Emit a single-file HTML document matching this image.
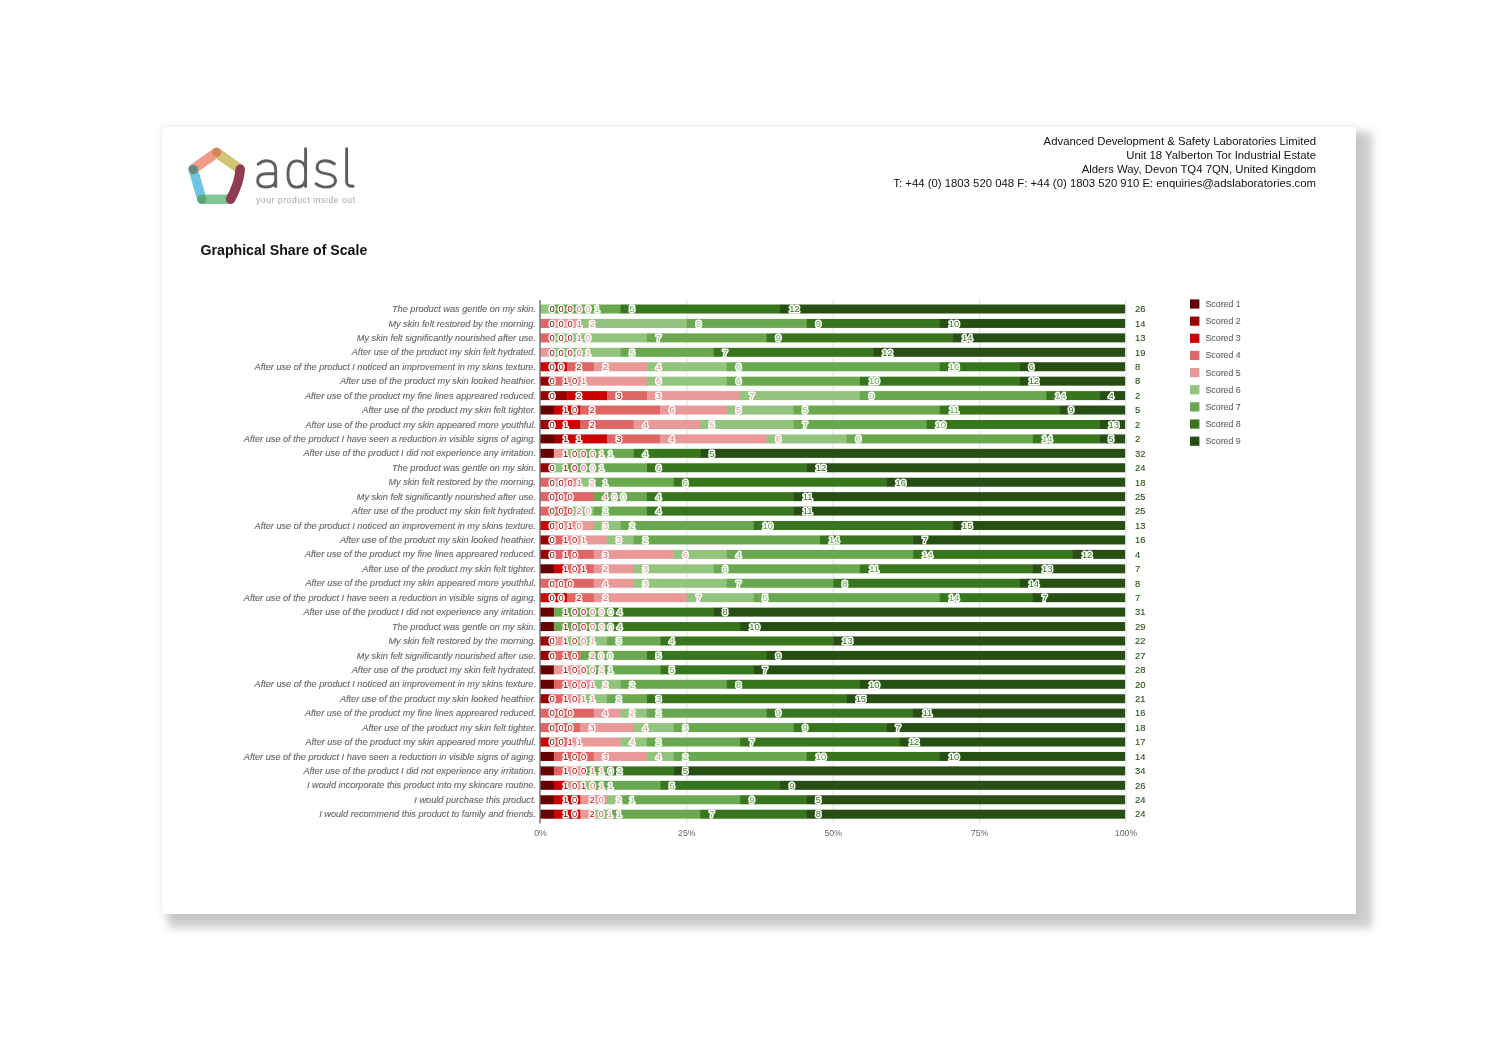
<!DOCTYPE html>
<html><head><meta charset="utf-8"><title>Graphical Share of Scale</title>
<style>
html,body{margin:0;padding:0;background:#fff;}
body{width:1500px;height:1047px;position:relative;overflow:hidden;font-family:"Liberation Sans",sans-serif;}
#page{position:absolute;left:161.5px;top:127.3px;width:1194.5px;height:787.2px;background:#fff;
 box-shadow:0 0 8px 1px rgba(0,0,0,0.07);}
#shadow{position:absolute;left:168px;top:132px;width:1204px;height:796px;background:rgba(0,0,0,0.195);filter:blur(4.5px);}
#addr{position:absolute;right:184px;top:134px;text-align:right;font-size:11.35px;line-height:14px;color:#111;white-space:nowrap;}
#title{position:absolute;left:200.5px;top:241.4px;font-weight:bold;font-size:14.17px;line-height:18px;color:#111;white-space:nowrap;}
#chart{position:absolute;left:0;top:0;filter:blur(0.55px);}
#logo,#tag,#addr,#title{filter:blur(0.45px);}
#chart text{font-family:"Liberation Sans",sans-serif;}
#chart text.d{font-size:9.4px;text-anchor:middle;stroke:#fff;stroke-width:3px;stroke-linejoin:round;paint-order:stroke fill;}
#chart text.e{font-size:9.4px;text-anchor:middle;stroke-width:0.1px;}
#chart text.c{font-size:9.17px;font-style:italic;text-anchor:end;fill:#666;stroke:#666;stroke-width:0.12px;}
#chart text.a{font-size:8.8px;text-anchor:middle;fill:#666;}
#chart text.l{font-size:8.8px;fill:#666;stroke:#666;stroke-width:0.12px;}
#logo{position:absolute;left:180px;top:138px;}
#tag{position:absolute;left:256px;top:194.5px;font-size:8.6px;line-height:11px;letter-spacing:0.55px;color:#a6a6a6;white-space:nowrap;}
</style></head><body>
<div id="shadow"></div>
<div id="page"></div>
<svg id="logo" width="190" height="76" viewBox="0 0 190 76">
 <g fill="none" stroke-linecap="round">
  <path d="M36.6 14.6 L13.2 31.2" stroke="#f09c88" stroke-width="10"/>
  <path d="M36.6 14.6 L60 31.2" stroke="#d2c474" stroke-width="10"/>
  <path d="M13.2 31.2 L21.8 61.3" stroke="#6fc4e4" stroke-width="9.4"/>
  <path d="M21.8 61.3 L50.6 61.3" stroke="#7fc794" stroke-width="9.4"/>
  <circle cx="36.6" cy="14.6" r="4.6" fill="#d3875c" stroke="none"/>
  <circle cx="13.4" cy="31.6" r="4.6" fill="#648c7e" stroke="none"/>
  <circle cx="22" cy="61.1" r="4.6" fill="#5aa878" stroke="none"/>
  <path d="M60.2 31.4 Q59 46 50.6 61.1" stroke="#8f3b52" stroke-width="9.6"/>
 </g>
 <g fill="none" stroke="#5e5f61" stroke-width="2.9" stroke-linecap="round" stroke-linejoin="round" transform="translate(70,2) scale(0.07669)">
  <path d="M108 315 C150 275 200 268 235 272 C300 280 335 320 335 390 L335 606 M335 440 L215 440 C140 440 100 475 100 530 C100 585 145 612 210 612 C270 612 335 590 335 520" stroke-width="38"/>
  <path d="M725 114 L725 606 M725 400 C725 320 680 272 610 272 C530 272 495 330 495 445 C495 560 530 615 610 615 C680 615 725 570 725 490" stroke-width="38"/>
  <path d="M1100 310 C1060 280 1020 270 980 270 C920 270 875 300 875 355 C875 410 915 425 990 438 C1070 450 1115 470 1115 525 C1115 585 1060 615 990 615 C940 615 895 600 860 570" stroke-width="38"/>
  <path d="M1260 114 L1260 540 C1260 588 1285 604 1345 604" stroke-width="38"/>
 </g>
</svg>
<div id="tag">your product inside out</div>
<div id="addr">Advanced Development &amp; Safety Laboratories Limited<br>Unit 18 Yalberton Tor Industrial Estate<br>Alders Way, Devon TQ4 7QN, United Kingdom<br>T: +44 (0) 1803 520 048 F: +44 (0) 1803 520 910 E: enquiries@adslaboratories.com</div>
<div id="title">Graphical Share of Scale</div>
<svg id="chart" width="1500" height="1047" viewBox="0 0 1500 1047">
<rect x="686.38" y="300" width="1" height="523.5" fill="#dcdce2"/>
<rect x="832.75" y="300" width="1" height="523.5" fill="#dcdce2"/>
<rect x="979.12" y="300" width="1" height="523.5" fill="#dcdce2"/>
<rect x="1125.50" y="300" width="1" height="523.5" fill="#dcdce2"/>
<rect x="540.50" y="304.50" width="13.61" height="9.0" fill="#93c47d"/>
<rect x="553.81" y="304.50" width="66.83" height="9.0" fill="#6aa84f"/>
<rect x="620.34" y="304.50" width="159.98" height="9.0" fill="#38761d"/>
<rect x="780.02" y="304.50" width="345.08" height="9.0" fill="#274e13"/>
<rect x="540.50" y="318.93" width="13.61" height="9.0" fill="#e06666"/>
<rect x="553.81" y="318.93" width="26.91" height="9.0" fill="#ea9999"/>
<rect x="580.42" y="318.93" width="106.75" height="9.0" fill="#93c47d"/>
<rect x="686.88" y="318.93" width="120.06" height="9.0" fill="#6aa84f"/>
<rect x="806.64" y="318.93" width="133.37" height="9.0" fill="#38761d"/>
<rect x="939.70" y="318.93" width="185.40" height="9.0" fill="#274e13"/>
<rect x="540.50" y="333.37" width="13.61" height="9.0" fill="#e06666"/>
<rect x="553.81" y="333.37" width="93.45" height="9.0" fill="#93c47d"/>
<rect x="646.95" y="333.37" width="120.06" height="9.0" fill="#6aa84f"/>
<rect x="766.72" y="333.37" width="186.60" height="9.0" fill="#38761d"/>
<rect x="953.01" y="333.37" width="172.09" height="9.0" fill="#274e13"/>
<rect x="540.50" y="347.80" width="13.61" height="9.0" fill="#ea9999"/>
<rect x="553.81" y="347.80" width="66.83" height="9.0" fill="#93c47d"/>
<rect x="620.34" y="347.80" width="93.45" height="9.0" fill="#6aa84f"/>
<rect x="713.49" y="347.80" width="159.98" height="9.0" fill="#38761d"/>
<rect x="873.17" y="347.80" width="251.93" height="9.0" fill="#274e13"/>
<rect x="540.50" y="362.24" width="26.91" height="9.0" fill="#cc0000"/>
<rect x="567.11" y="362.24" width="26.91" height="9.0" fill="#e06666"/>
<rect x="593.73" y="362.24" width="53.53" height="9.0" fill="#ea9999"/>
<rect x="646.95" y="362.24" width="80.14" height="9.0" fill="#93c47d"/>
<rect x="726.80" y="362.24" width="213.21" height="9.0" fill="#6aa84f"/>
<rect x="939.70" y="362.24" width="80.14" height="9.0" fill="#38761d"/>
<rect x="1019.55" y="362.24" width="105.55" height="9.0" fill="#274e13"/>
<rect x="540.50" y="376.67" width="13.61" height="9.0" fill="#990000"/>
<rect x="553.81" y="376.67" width="13.61" height="9.0" fill="#e06666"/>
<rect x="567.11" y="376.67" width="80.14" height="9.0" fill="#ea9999"/>
<rect x="646.95" y="376.67" width="80.14" height="9.0" fill="#93c47d"/>
<rect x="726.80" y="376.67" width="133.37" height="9.0" fill="#6aa84f"/>
<rect x="859.86" y="376.67" width="159.98" height="9.0" fill="#38761d"/>
<rect x="1019.55" y="376.67" width="105.55" height="9.0" fill="#274e13"/>
<rect x="540.50" y="391.10" width="26.91" height="9.0" fill="#990000"/>
<rect x="567.11" y="391.10" width="40.22" height="9.0" fill="#cc0000"/>
<rect x="607.03" y="391.10" width="40.22" height="9.0" fill="#e06666"/>
<rect x="646.95" y="391.10" width="93.45" height="9.0" fill="#ea9999"/>
<rect x="740.10" y="391.10" width="120.06" height="9.0" fill="#93c47d"/>
<rect x="859.86" y="391.10" width="186.60" height="9.0" fill="#6aa84f"/>
<rect x="1046.16" y="391.10" width="53.53" height="9.0" fill="#38761d"/>
<rect x="1099.39" y="391.10" width="25.71" height="9.0" fill="#274e13"/>
<rect x="540.50" y="405.54" width="13.61" height="9.0" fill="#660000"/>
<rect x="553.81" y="405.54" width="26.91" height="9.0" fill="#cc0000"/>
<rect x="580.42" y="405.54" width="80.14" height="9.0" fill="#e06666"/>
<rect x="660.26" y="405.54" width="66.83" height="9.0" fill="#ea9999"/>
<rect x="726.80" y="405.54" width="66.83" height="9.0" fill="#93c47d"/>
<rect x="793.33" y="405.54" width="146.68" height="9.0" fill="#6aa84f"/>
<rect x="939.70" y="405.54" width="120.06" height="9.0" fill="#38761d"/>
<rect x="1059.47" y="405.54" width="65.63" height="9.0" fill="#274e13"/>
<rect x="540.50" y="419.97" width="13.61" height="9.0" fill="#990000"/>
<rect x="553.81" y="419.97" width="26.91" height="9.0" fill="#cc0000"/>
<rect x="580.42" y="419.97" width="53.53" height="9.0" fill="#e06666"/>
<rect x="633.65" y="419.97" width="66.83" height="9.0" fill="#ea9999"/>
<rect x="700.18" y="419.97" width="93.45" height="9.0" fill="#93c47d"/>
<rect x="793.33" y="419.97" width="133.37" height="9.0" fill="#6aa84f"/>
<rect x="926.40" y="419.97" width="173.29" height="9.0" fill="#38761d"/>
<rect x="1099.39" y="419.97" width="25.71" height="9.0" fill="#274e13"/>
<rect x="540.50" y="434.41" width="13.61" height="9.0" fill="#660000"/>
<rect x="553.81" y="434.41" width="13.61" height="9.0" fill="#990000"/>
<rect x="567.11" y="434.41" width="40.22" height="9.0" fill="#cc0000"/>
<rect x="607.03" y="434.41" width="53.53" height="9.0" fill="#e06666"/>
<rect x="660.26" y="434.41" width="106.75" height="9.0" fill="#ea9999"/>
<rect x="766.72" y="434.41" width="80.14" height="9.0" fill="#93c47d"/>
<rect x="846.56" y="434.41" width="186.60" height="9.0" fill="#6aa84f"/>
<rect x="1032.85" y="434.41" width="66.83" height="9.0" fill="#38761d"/>
<rect x="1099.39" y="434.41" width="25.71" height="9.0" fill="#274e13"/>
<rect x="540.50" y="448.84" width="13.61" height="9.0" fill="#660000"/>
<rect x="553.81" y="448.84" width="13.61" height="9.0" fill="#ea9999"/>
<rect x="567.11" y="448.84" width="13.61" height="9.0" fill="#93c47d"/>
<rect x="580.42" y="448.84" width="53.53" height="9.0" fill="#6aa84f"/>
<rect x="633.65" y="448.84" width="66.83" height="9.0" fill="#38761d"/>
<rect x="700.18" y="448.84" width="424.92" height="9.0" fill="#274e13"/>
<rect x="540.50" y="463.27" width="13.61" height="9.0" fill="#990000"/>
<rect x="553.81" y="463.27" width="13.61" height="9.0" fill="#93c47d"/>
<rect x="567.11" y="463.27" width="80.14" height="9.0" fill="#6aa84f"/>
<rect x="646.95" y="463.27" width="159.98" height="9.0" fill="#38761d"/>
<rect x="806.64" y="463.27" width="318.46" height="9.0" fill="#274e13"/>
<rect x="540.50" y="477.71" width="13.61" height="9.0" fill="#e06666"/>
<rect x="553.81" y="477.71" width="26.91" height="9.0" fill="#ea9999"/>
<rect x="580.42" y="477.71" width="13.61" height="9.0" fill="#93c47d"/>
<rect x="593.73" y="477.71" width="80.14" height="9.0" fill="#6aa84f"/>
<rect x="673.57" y="477.71" width="213.21" height="9.0" fill="#38761d"/>
<rect x="886.48" y="477.71" width="238.62" height="9.0" fill="#274e13"/>
<rect x="540.50" y="492.14" width="53.53" height="9.0" fill="#e06666"/>
<rect x="593.73" y="492.14" width="53.53" height="9.0" fill="#6aa84f"/>
<rect x="646.95" y="492.14" width="146.68" height="9.0" fill="#38761d"/>
<rect x="793.33" y="492.14" width="331.77" height="9.0" fill="#274e13"/>
<rect x="540.50" y="506.58" width="26.91" height="9.0" fill="#e06666"/>
<rect x="567.11" y="506.58" width="26.91" height="9.0" fill="#93c47d"/>
<rect x="593.73" y="506.58" width="53.53" height="9.0" fill="#6aa84f"/>
<rect x="646.95" y="506.58" width="146.68" height="9.0" fill="#38761d"/>
<rect x="793.33" y="506.58" width="331.77" height="9.0" fill="#274e13"/>
<rect x="540.50" y="521.01" width="13.61" height="9.0" fill="#cc0000"/>
<rect x="553.81" y="521.01" width="40.22" height="9.0" fill="#ea9999"/>
<rect x="593.73" y="521.01" width="26.91" height="9.0" fill="#93c47d"/>
<rect x="620.34" y="521.01" width="133.37" height="9.0" fill="#6aa84f"/>
<rect x="753.41" y="521.01" width="199.90" height="9.0" fill="#38761d"/>
<rect x="953.01" y="521.01" width="172.09" height="9.0" fill="#274e13"/>
<rect x="540.50" y="535.44" width="13.61" height="9.0" fill="#990000"/>
<rect x="553.81" y="535.44" width="13.61" height="9.0" fill="#e06666"/>
<rect x="567.11" y="535.44" width="40.22" height="9.0" fill="#ea9999"/>
<rect x="607.03" y="535.44" width="26.91" height="9.0" fill="#93c47d"/>
<rect x="633.65" y="535.44" width="186.60" height="9.0" fill="#6aa84f"/>
<rect x="819.94" y="535.44" width="93.45" height="9.0" fill="#38761d"/>
<rect x="913.09" y="535.44" width="212.01" height="9.0" fill="#274e13"/>
<rect x="540.50" y="549.88" width="13.61" height="9.0" fill="#990000"/>
<rect x="553.81" y="549.88" width="40.22" height="9.0" fill="#e06666"/>
<rect x="593.73" y="549.88" width="80.14" height="9.0" fill="#ea9999"/>
<rect x="673.57" y="549.88" width="53.53" height="9.0" fill="#93c47d"/>
<rect x="726.80" y="549.88" width="186.60" height="9.0" fill="#6aa84f"/>
<rect x="913.09" y="549.88" width="159.98" height="9.0" fill="#38761d"/>
<rect x="1072.77" y="549.88" width="52.33" height="9.0" fill="#274e13"/>
<rect x="540.50" y="564.31" width="13.61" height="9.0" fill="#660000"/>
<rect x="553.81" y="564.31" width="13.61" height="9.0" fill="#cc0000"/>
<rect x="567.11" y="564.31" width="26.91" height="9.0" fill="#e06666"/>
<rect x="593.73" y="564.31" width="40.22" height="9.0" fill="#ea9999"/>
<rect x="633.65" y="564.31" width="80.14" height="9.0" fill="#93c47d"/>
<rect x="713.49" y="564.31" width="146.68" height="9.0" fill="#6aa84f"/>
<rect x="859.86" y="564.31" width="173.29" height="9.0" fill="#38761d"/>
<rect x="1032.85" y="564.31" width="92.25" height="9.0" fill="#274e13"/>
<rect x="540.50" y="578.75" width="53.53" height="9.0" fill="#e06666"/>
<rect x="593.73" y="578.75" width="40.22" height="9.0" fill="#ea9999"/>
<rect x="633.65" y="578.75" width="93.45" height="9.0" fill="#93c47d"/>
<rect x="726.80" y="578.75" width="106.75" height="9.0" fill="#6aa84f"/>
<rect x="833.25" y="578.75" width="186.60" height="9.0" fill="#38761d"/>
<rect x="1019.55" y="578.75" width="105.55" height="9.0" fill="#274e13"/>
<rect x="540.50" y="593.18" width="26.91" height="9.0" fill="#cc0000"/>
<rect x="567.11" y="593.18" width="26.91" height="9.0" fill="#e06666"/>
<rect x="593.73" y="593.18" width="93.45" height="9.0" fill="#ea9999"/>
<rect x="686.88" y="593.18" width="66.83" height="9.0" fill="#93c47d"/>
<rect x="753.41" y="593.18" width="186.60" height="9.0" fill="#6aa84f"/>
<rect x="939.70" y="593.18" width="93.45" height="9.0" fill="#38761d"/>
<rect x="1032.85" y="593.18" width="92.25" height="9.0" fill="#274e13"/>
<rect x="540.50" y="607.61" width="13.61" height="9.0" fill="#660000"/>
<rect x="553.81" y="607.61" width="53.53" height="9.0" fill="#6aa84f"/>
<rect x="607.03" y="607.61" width="106.75" height="9.0" fill="#38761d"/>
<rect x="713.49" y="607.61" width="411.61" height="9.0" fill="#274e13"/>
<rect x="540.50" y="622.05" width="13.61" height="9.0" fill="#660000"/>
<rect x="553.81" y="622.05" width="53.53" height="9.0" fill="#6aa84f"/>
<rect x="607.03" y="622.05" width="133.37" height="9.0" fill="#38761d"/>
<rect x="740.10" y="622.05" width="385.00" height="9.0" fill="#274e13"/>
<rect x="540.50" y="636.48" width="13.61" height="9.0" fill="#990000"/>
<rect x="553.81" y="636.48" width="13.61" height="9.0" fill="#ea9999"/>
<rect x="567.11" y="636.48" width="40.22" height="9.0" fill="#93c47d"/>
<rect x="607.03" y="636.48" width="53.53" height="9.0" fill="#6aa84f"/>
<rect x="660.26" y="636.48" width="173.29" height="9.0" fill="#38761d"/>
<rect x="833.25" y="636.48" width="291.85" height="9.0" fill="#274e13"/>
<rect x="540.50" y="650.92" width="13.61" height="9.0" fill="#990000"/>
<rect x="553.81" y="650.92" width="26.91" height="9.0" fill="#e06666"/>
<rect x="580.42" y="650.92" width="66.83" height="9.0" fill="#6aa84f"/>
<rect x="646.95" y="650.92" width="120.06" height="9.0" fill="#38761d"/>
<rect x="766.72" y="650.92" width="358.38" height="9.0" fill="#274e13"/>
<rect x="540.50" y="665.35" width="13.61" height="9.0" fill="#660000"/>
<rect x="553.81" y="665.35" width="26.91" height="9.0" fill="#ea9999"/>
<rect x="580.42" y="665.35" width="13.61" height="9.0" fill="#93c47d"/>
<rect x="593.73" y="665.35" width="66.83" height="9.0" fill="#6aa84f"/>
<rect x="660.26" y="665.35" width="93.45" height="9.0" fill="#38761d"/>
<rect x="753.41" y="665.35" width="371.69" height="9.0" fill="#274e13"/>
<rect x="540.50" y="679.78" width="13.61" height="9.0" fill="#660000"/>
<rect x="553.81" y="679.78" width="13.61" height="9.0" fill="#e06666"/>
<rect x="567.11" y="679.78" width="26.91" height="9.0" fill="#ea9999"/>
<rect x="593.73" y="679.78" width="26.91" height="9.0" fill="#93c47d"/>
<rect x="620.34" y="679.78" width="106.75" height="9.0" fill="#6aa84f"/>
<rect x="726.80" y="679.78" width="133.37" height="9.0" fill="#38761d"/>
<rect x="859.86" y="679.78" width="265.24" height="9.0" fill="#274e13"/>
<rect x="540.50" y="694.22" width="13.61" height="9.0" fill="#990000"/>
<rect x="553.81" y="694.22" width="13.61" height="9.0" fill="#e06666"/>
<rect x="567.11" y="694.22" width="13.61" height="9.0" fill="#ea9999"/>
<rect x="580.42" y="694.22" width="26.91" height="9.0" fill="#93c47d"/>
<rect x="607.03" y="694.22" width="40.22" height="9.0" fill="#6aa84f"/>
<rect x="646.95" y="694.22" width="199.90" height="9.0" fill="#38761d"/>
<rect x="846.56" y="694.22" width="278.54" height="9.0" fill="#274e13"/>
<rect x="540.50" y="708.65" width="53.53" height="9.0" fill="#e06666"/>
<rect x="593.73" y="708.65" width="26.91" height="9.0" fill="#ea9999"/>
<rect x="620.34" y="708.65" width="26.91" height="9.0" fill="#93c47d"/>
<rect x="646.95" y="708.65" width="120.06" height="9.0" fill="#6aa84f"/>
<rect x="766.72" y="708.65" width="146.68" height="9.0" fill="#38761d"/>
<rect x="913.09" y="708.65" width="212.01" height="9.0" fill="#274e13"/>
<rect x="540.50" y="723.09" width="40.22" height="9.0" fill="#e06666"/>
<rect x="580.42" y="723.09" width="53.53" height="9.0" fill="#ea9999"/>
<rect x="633.65" y="723.09" width="40.22" height="9.0" fill="#93c47d"/>
<rect x="673.57" y="723.09" width="120.06" height="9.0" fill="#6aa84f"/>
<rect x="793.33" y="723.09" width="93.45" height="9.0" fill="#38761d"/>
<rect x="886.48" y="723.09" width="238.62" height="9.0" fill="#274e13"/>
<rect x="540.50" y="737.52" width="13.61" height="9.0" fill="#cc0000"/>
<rect x="553.81" y="737.52" width="13.61" height="9.0" fill="#e06666"/>
<rect x="567.11" y="737.52" width="53.53" height="9.0" fill="#ea9999"/>
<rect x="620.34" y="737.52" width="26.91" height="9.0" fill="#93c47d"/>
<rect x="646.95" y="737.52" width="93.45" height="9.0" fill="#6aa84f"/>
<rect x="740.10" y="737.52" width="159.98" height="9.0" fill="#38761d"/>
<rect x="899.78" y="737.52" width="225.32" height="9.0" fill="#274e13"/>
<rect x="540.50" y="751.95" width="13.61" height="9.0" fill="#660000"/>
<rect x="553.81" y="751.95" width="40.22" height="9.0" fill="#e06666"/>
<rect x="593.73" y="751.95" width="53.53" height="9.0" fill="#ea9999"/>
<rect x="646.95" y="751.95" width="26.91" height="9.0" fill="#93c47d"/>
<rect x="673.57" y="751.95" width="133.37" height="9.0" fill="#6aa84f"/>
<rect x="806.64" y="751.95" width="133.37" height="9.0" fill="#38761d"/>
<rect x="939.70" y="751.95" width="185.40" height="9.0" fill="#274e13"/>
<rect x="540.50" y="766.39" width="13.61" height="9.0" fill="#660000"/>
<rect x="553.81" y="766.39" width="13.61" height="9.0" fill="#e06666"/>
<rect x="567.11" y="766.39" width="13.61" height="9.0" fill="#ea9999"/>
<rect x="580.42" y="766.39" width="26.91" height="9.0" fill="#6aa84f"/>
<rect x="607.03" y="766.39" width="66.83" height="9.0" fill="#38761d"/>
<rect x="673.57" y="766.39" width="451.53" height="9.0" fill="#274e13"/>
<rect x="540.50" y="780.82" width="13.61" height="9.0" fill="#660000"/>
<rect x="553.81" y="780.82" width="13.61" height="9.0" fill="#cc0000"/>
<rect x="567.11" y="780.82" width="13.61" height="9.0" fill="#ea9999"/>
<rect x="580.42" y="780.82" width="13.61" height="9.0" fill="#93c47d"/>
<rect x="593.73" y="780.82" width="66.83" height="9.0" fill="#6aa84f"/>
<rect x="660.26" y="780.82" width="120.06" height="9.0" fill="#38761d"/>
<rect x="780.02" y="780.82" width="345.08" height="9.0" fill="#274e13"/>
<rect x="540.50" y="795.26" width="13.61" height="9.0" fill="#660000"/>
<rect x="553.81" y="795.26" width="26.91" height="9.0" fill="#cc0000"/>
<rect x="580.42" y="795.26" width="26.91" height="9.0" fill="#ea9999"/>
<rect x="607.03" y="795.26" width="13.61" height="9.0" fill="#93c47d"/>
<rect x="620.34" y="795.26" width="120.06" height="9.0" fill="#6aa84f"/>
<rect x="740.10" y="795.26" width="66.83" height="9.0" fill="#38761d"/>
<rect x="806.64" y="795.26" width="318.46" height="9.0" fill="#274e13"/>
<rect x="540.50" y="809.69" width="13.61" height="9.0" fill="#660000"/>
<rect x="553.81" y="809.69" width="26.91" height="9.0" fill="#cc0000"/>
<rect x="580.42" y="809.69" width="13.61" height="9.0" fill="#ea9999"/>
<rect x="593.73" y="809.69" width="13.61" height="9.0" fill="#93c47d"/>
<rect x="607.03" y="809.69" width="93.45" height="9.0" fill="#6aa84f"/>
<rect x="700.18" y="809.69" width="106.75" height="9.0" fill="#38761d"/>
<rect x="806.64" y="809.69" width="318.46" height="9.0" fill="#274e13"/>
<rect x="539.50" y="300" width="1" height="523.5" fill="#333"/>
<text class="d" x="552.22" y="312.30" fill="#660000">0</text>
<text class="d" x="561.22" y="312.30" fill="#990000">0</text>
<text class="d" x="570.22" y="312.30" fill="#cc0000">0</text>
<text class="d" x="579.22" y="312.30" fill="#e06666">0</text>
<text class="d" x="588.22" y="312.30" fill="#ea9999">0</text>
<text class="d" x="597.22" y="312.30" fill="#93c47d">1</text>
<text class="d" x="632.06" y="312.30" fill="#6aa84f">5</text>
<text class="d" x="794.35" y="312.30" fill="#38761d">12</text>
<text class="e" x="1140.33" y="312.30" fill="#274e13" stroke="#274e13">26</text>
<text class="d" x="552.22" y="326.73" fill="#660000">0</text>
<text class="d" x="561.22" y="326.73" fill="#990000">0</text>
<text class="d" x="570.22" y="326.73" fill="#cc0000">0</text>
<text class="d" x="579.22" y="326.73" fill="#e06666">1</text>
<text class="d" x="592.14" y="326.73" fill="#ea9999">2</text>
<text class="d" x="698.59" y="326.73" fill="#93c47d">8</text>
<text class="d" x="818.35" y="326.73" fill="#6aa84f">9</text>
<text class="d" x="954.03" y="326.73" fill="#38761d">10</text>
<text class="e" x="1140.33" y="326.73" fill="#274e13" stroke="#274e13">14</text>
<text class="d" x="552.22" y="341.17" fill="#660000">0</text>
<text class="d" x="561.22" y="341.17" fill="#990000">0</text>
<text class="d" x="570.22" y="341.17" fill="#cc0000">0</text>
<text class="d" x="579.22" y="341.17" fill="#e06666">1</text>
<text class="d" x="588.22" y="341.17" fill="#ea9999">0</text>
<text class="d" x="658.67" y="341.17" fill="#93c47d">7</text>
<text class="d" x="778.43" y="341.17" fill="#6aa84f">9</text>
<text class="d" x="967.34" y="341.17" fill="#38761d">14</text>
<text class="e" x="1140.33" y="341.17" fill="#274e13" stroke="#274e13">13</text>
<text class="d" x="552.22" y="355.60" fill="#660000">0</text>
<text class="d" x="561.22" y="355.60" fill="#990000">0</text>
<text class="d" x="570.22" y="355.60" fill="#cc0000">0</text>
<text class="d" x="579.22" y="355.60" fill="#e06666">0</text>
<text class="d" x="588.22" y="355.60" fill="#ea9999">1</text>
<text class="d" x="632.06" y="355.60" fill="#93c47d">5</text>
<text class="d" x="725.20" y="355.60" fill="#6aa84f">7</text>
<text class="d" x="887.50" y="355.60" fill="#38761d">12</text>
<text class="e" x="1140.33" y="355.60" fill="#274e13" stroke="#274e13">19</text>
<text class="d" x="552.22" y="370.04" fill="#660000">0</text>
<text class="d" x="561.22" y="370.04" fill="#990000">0</text>
<text class="d" x="578.83" y="370.04" fill="#cc0000">2</text>
<text class="d" x="605.44" y="370.04" fill="#e06666">2</text>
<text class="d" x="658.67" y="370.04" fill="#ea9999">4</text>
<text class="d" x="738.51" y="370.04" fill="#93c47d">6</text>
<text class="d" x="954.03" y="370.04" fill="#6aa84f">16</text>
<text class="d" x="1031.26" y="370.04" fill="#38761d">6</text>
<text class="e" x="1137.71" y="370.04" fill="#274e13" stroke="#274e13">8</text>
<text class="d" x="552.22" y="384.47" fill="#660000">0</text>
<text class="d" x="565.52" y="384.47" fill="#990000">1</text>
<text class="d" x="574.52" y="384.47" fill="#cc0000">0</text>
<text class="d" x="583.52" y="384.47" fill="#e06666">1</text>
<text class="d" x="658.67" y="384.47" fill="#ea9999">6</text>
<text class="d" x="738.51" y="384.47" fill="#93c47d">6</text>
<text class="d" x="874.19" y="384.47" fill="#6aa84f">10</text>
<text class="d" x="1033.88" y="384.47" fill="#38761d">12</text>
<text class="e" x="1137.71" y="384.47" fill="#274e13" stroke="#274e13">8</text>
<text class="d" x="552.22" y="398.90" fill="#660000">0</text>
<text class="d" x="578.83" y="398.90" fill="#990000">2</text>
<text class="d" x="618.75" y="398.90" fill="#cc0000">3</text>
<text class="d" x="658.67" y="398.90" fill="#e06666">3</text>
<text class="d" x="751.82" y="398.90" fill="#ea9999">7</text>
<text class="d" x="871.58" y="398.90" fill="#93c47d">9</text>
<text class="d" x="1060.49" y="398.90" fill="#6aa84f">14</text>
<text class="d" x="1111.10" y="398.90" fill="#38761d">4</text>
<text class="e" x="1137.71" y="398.90" fill="#274e13" stroke="#274e13">2</text>
<text class="d" x="565.52" y="413.34" fill="#660000">1</text>
<text class="d" x="574.52" y="413.34" fill="#990000">0</text>
<text class="d" x="592.14" y="413.34" fill="#cc0000">2</text>
<text class="d" x="671.98" y="413.34" fill="#e06666">6</text>
<text class="d" x="738.51" y="413.34" fill="#ea9999">5</text>
<text class="d" x="805.04" y="413.34" fill="#93c47d">5</text>
<text class="d" x="954.03" y="413.34" fill="#6aa84f">11</text>
<text class="d" x="1071.18" y="413.34" fill="#38761d">9</text>
<text class="e" x="1137.71" y="413.34" fill="#274e13" stroke="#274e13">5</text>
<text class="d" x="552.22" y="427.77" fill="#660000">0</text>
<text class="d" x="565.52" y="427.77" fill="#990000">1</text>
<text class="d" x="592.14" y="427.77" fill="#cc0000">2</text>
<text class="d" x="645.36" y="427.77" fill="#e06666">4</text>
<text class="d" x="711.90" y="427.77" fill="#ea9999">5</text>
<text class="d" x="805.04" y="427.77" fill="#93c47d">7</text>
<text class="d" x="940.73" y="427.77" fill="#6aa84f">10</text>
<text class="d" x="1113.72" y="427.77" fill="#38761d">13</text>
<text class="e" x="1137.71" y="427.77" fill="#274e13" stroke="#274e13">2</text>
<text class="d" x="565.52" y="442.21" fill="#660000">1</text>
<text class="d" x="578.83" y="442.21" fill="#990000">1</text>
<text class="d" x="618.75" y="442.21" fill="#cc0000">3</text>
<text class="d" x="671.98" y="442.21" fill="#e06666">4</text>
<text class="d" x="778.43" y="442.21" fill="#ea9999">8</text>
<text class="d" x="858.27" y="442.21" fill="#93c47d">6</text>
<text class="d" x="1047.18" y="442.21" fill="#6aa84f">14</text>
<text class="d" x="1111.10" y="442.21" fill="#38761d">5</text>
<text class="e" x="1137.71" y="442.21" fill="#274e13" stroke="#274e13">2</text>
<text class="d" x="565.52" y="456.64" fill="#660000">1</text>
<text class="d" x="574.52" y="456.64" fill="#990000">0</text>
<text class="d" x="583.52" y="456.64" fill="#cc0000">0</text>
<text class="d" x="592.52" y="456.64" fill="#e06666">0</text>
<text class="d" x="601.52" y="456.64" fill="#ea9999">1</text>
<text class="d" x="610.52" y="456.64" fill="#93c47d">1</text>
<text class="d" x="645.36" y="456.64" fill="#6aa84f">4</text>
<text class="d" x="711.90" y="456.64" fill="#38761d">5</text>
<text class="e" x="1140.33" y="456.64" fill="#274e13" stroke="#274e13">32</text>
<text class="d" x="552.22" y="471.07" fill="#660000">0</text>
<text class="d" x="565.52" y="471.07" fill="#990000">1</text>
<text class="d" x="574.52" y="471.07" fill="#cc0000">0</text>
<text class="d" x="583.52" y="471.07" fill="#e06666">0</text>
<text class="d" x="592.52" y="471.07" fill="#ea9999">0</text>
<text class="d" x="601.52" y="471.07" fill="#93c47d">1</text>
<text class="d" x="658.67" y="471.07" fill="#6aa84f">6</text>
<text class="d" x="820.97" y="471.07" fill="#38761d">12</text>
<text class="e" x="1140.33" y="471.07" fill="#274e13" stroke="#274e13">24</text>
<text class="d" x="552.22" y="485.51" fill="#660000">0</text>
<text class="d" x="561.22" y="485.51" fill="#990000">0</text>
<text class="d" x="570.22" y="485.51" fill="#cc0000">0</text>
<text class="d" x="579.22" y="485.51" fill="#e06666">1</text>
<text class="d" x="592.14" y="485.51" fill="#ea9999">2</text>
<text class="d" x="605.44" y="485.51" fill="#93c47d">1</text>
<text class="d" x="685.28" y="485.51" fill="#6aa84f">6</text>
<text class="d" x="900.81" y="485.51" fill="#38761d">16</text>
<text class="e" x="1140.33" y="485.51" fill="#274e13" stroke="#274e13">18</text>
<text class="d" x="552.22" y="499.94" fill="#660000">0</text>
<text class="d" x="561.22" y="499.94" fill="#990000">0</text>
<text class="d" x="570.22" y="499.94" fill="#cc0000">0</text>
<text class="d" x="605.44" y="499.94" fill="#e06666">4</text>
<text class="d" x="614.44" y="499.94" fill="#ea9999">0</text>
<text class="d" x="623.44" y="499.94" fill="#93c47d">0</text>
<text class="d" x="658.67" y="499.94" fill="#6aa84f">4</text>
<text class="d" x="807.66" y="499.94" fill="#38761d">11</text>
<text class="e" x="1140.33" y="499.94" fill="#274e13" stroke="#274e13">25</text>
<text class="d" x="552.22" y="514.38" fill="#660000">0</text>
<text class="d" x="561.22" y="514.38" fill="#990000">0</text>
<text class="d" x="570.22" y="514.38" fill="#cc0000">0</text>
<text class="d" x="579.22" y="514.38" fill="#e06666">2</text>
<text class="d" x="588.22" y="514.38" fill="#ea9999">0</text>
<text class="d" x="605.44" y="514.38" fill="#93c47d">2</text>
<text class="d" x="658.67" y="514.38" fill="#6aa84f">4</text>
<text class="d" x="807.66" y="514.38" fill="#38761d">11</text>
<text class="e" x="1140.33" y="514.38" fill="#274e13" stroke="#274e13">25</text>
<text class="d" x="552.22" y="528.81" fill="#660000">0</text>
<text class="d" x="561.22" y="528.81" fill="#990000">0</text>
<text class="d" x="570.22" y="528.81" fill="#cc0000">1</text>
<text class="d" x="579.22" y="528.81" fill="#e06666">0</text>
<text class="d" x="605.44" y="528.81" fill="#ea9999">3</text>
<text class="d" x="632.06" y="528.81" fill="#93c47d">2</text>
<text class="d" x="767.74" y="528.81" fill="#6aa84f">10</text>
<text class="d" x="967.34" y="528.81" fill="#38761d">15</text>
<text class="e" x="1140.33" y="528.81" fill="#274e13" stroke="#274e13">13</text>
<text class="d" x="552.22" y="543.24" fill="#660000">0</text>
<text class="d" x="565.52" y="543.24" fill="#990000">1</text>
<text class="d" x="574.52" y="543.24" fill="#cc0000">0</text>
<text class="d" x="583.52" y="543.24" fill="#e06666">1</text>
<text class="d" x="618.75" y="543.24" fill="#ea9999">3</text>
<text class="d" x="645.36" y="543.24" fill="#93c47d">2</text>
<text class="d" x="834.27" y="543.24" fill="#6aa84f">14</text>
<text class="d" x="924.81" y="543.24" fill="#38761d">7</text>
<text class="e" x="1140.33" y="543.24" fill="#274e13" stroke="#274e13">16</text>
<text class="d" x="552.22" y="557.68" fill="#660000">0</text>
<text class="d" x="565.52" y="557.68" fill="#990000">1</text>
<text class="d" x="574.52" y="557.68" fill="#cc0000">0</text>
<text class="d" x="605.44" y="557.68" fill="#e06666">3</text>
<text class="d" x="685.28" y="557.68" fill="#ea9999">6</text>
<text class="d" x="738.51" y="557.68" fill="#93c47d">4</text>
<text class="d" x="927.42" y="557.68" fill="#6aa84f">14</text>
<text class="d" x="1087.10" y="557.68" fill="#38761d">12</text>
<text class="e" x="1137.71" y="557.68" fill="#274e13" stroke="#274e13">4</text>
<text class="d" x="565.52" y="572.11" fill="#660000">1</text>
<text class="d" x="574.52" y="572.11" fill="#990000">0</text>
<text class="d" x="583.52" y="572.11" fill="#cc0000">1</text>
<text class="d" x="605.44" y="572.11" fill="#e06666">2</text>
<text class="d" x="645.36" y="572.11" fill="#ea9999">3</text>
<text class="d" x="725.20" y="572.11" fill="#93c47d">6</text>
<text class="d" x="874.19" y="572.11" fill="#6aa84f">11</text>
<text class="d" x="1047.18" y="572.11" fill="#38761d">13</text>
<text class="e" x="1137.71" y="572.11" fill="#274e13" stroke="#274e13">7</text>
<text class="d" x="552.22" y="586.55" fill="#660000">0</text>
<text class="d" x="561.22" y="586.55" fill="#990000">0</text>
<text class="d" x="570.22" y="586.55" fill="#cc0000">0</text>
<text class="d" x="605.44" y="586.55" fill="#e06666">4</text>
<text class="d" x="645.36" y="586.55" fill="#ea9999">3</text>
<text class="d" x="738.51" y="586.55" fill="#93c47d">7</text>
<text class="d" x="844.97" y="586.55" fill="#6aa84f">8</text>
<text class="d" x="1033.88" y="586.55" fill="#38761d">14</text>
<text class="e" x="1137.71" y="586.55" fill="#274e13" stroke="#274e13">8</text>
<text class="d" x="552.22" y="600.98" fill="#660000">0</text>
<text class="d" x="561.22" y="600.98" fill="#990000">0</text>
<text class="d" x="578.83" y="600.98" fill="#cc0000">2</text>
<text class="d" x="605.44" y="600.98" fill="#e06666">2</text>
<text class="d" x="698.59" y="600.98" fill="#ea9999">7</text>
<text class="d" x="765.12" y="600.98" fill="#93c47d">5</text>
<text class="d" x="954.03" y="600.98" fill="#6aa84f">14</text>
<text class="d" x="1044.57" y="600.98" fill="#38761d">7</text>
<text class="e" x="1137.71" y="600.98" fill="#274e13" stroke="#274e13">7</text>
<text class="d" x="565.52" y="615.41" fill="#660000">1</text>
<text class="d" x="574.52" y="615.41" fill="#990000">0</text>
<text class="d" x="583.52" y="615.41" fill="#cc0000">0</text>
<text class="d" x="592.52" y="615.41" fill="#e06666">0</text>
<text class="d" x="601.52" y="615.41" fill="#ea9999">0</text>
<text class="d" x="610.52" y="615.41" fill="#93c47d">0</text>
<text class="d" x="619.52" y="615.41" fill="#6aa84f">4</text>
<text class="d" x="725.20" y="615.41" fill="#38761d">8</text>
<text class="e" x="1140.33" y="615.41" fill="#274e13" stroke="#274e13">31</text>
<text class="d" x="565.52" y="629.85" fill="#660000">1</text>
<text class="d" x="574.52" y="629.85" fill="#990000">0</text>
<text class="d" x="583.52" y="629.85" fill="#cc0000">0</text>
<text class="d" x="592.52" y="629.85" fill="#e06666">0</text>
<text class="d" x="601.52" y="629.85" fill="#ea9999">0</text>
<text class="d" x="610.52" y="629.85" fill="#93c47d">0</text>
<text class="d" x="619.52" y="629.85" fill="#6aa84f">4</text>
<text class="d" x="754.43" y="629.85" fill="#38761d">10</text>
<text class="e" x="1140.33" y="629.85" fill="#274e13" stroke="#274e13">29</text>
<text class="d" x="552.22" y="644.28" fill="#660000">0</text>
<text class="d" x="565.52" y="644.28" fill="#990000">1</text>
<text class="d" x="574.52" y="644.28" fill="#cc0000">0</text>
<text class="d" x="583.52" y="644.28" fill="#e06666">0</text>
<text class="d" x="592.52" y="644.28" fill="#ea9999">1</text>
<text class="d" x="618.75" y="644.28" fill="#93c47d">3</text>
<text class="d" x="671.98" y="644.28" fill="#6aa84f">4</text>
<text class="d" x="847.58" y="644.28" fill="#38761d">13</text>
<text class="e" x="1140.33" y="644.28" fill="#274e13" stroke="#274e13">22</text>
<text class="d" x="552.22" y="658.72" fill="#660000">0</text>
<text class="d" x="565.52" y="658.72" fill="#990000">1</text>
<text class="d" x="574.52" y="658.72" fill="#cc0000">0</text>
<text class="d" x="592.14" y="658.72" fill="#e06666">2</text>
<text class="d" x="601.14" y="658.72" fill="#ea9999">0</text>
<text class="d" x="610.14" y="658.72" fill="#93c47d">0</text>
<text class="d" x="658.67" y="658.72" fill="#6aa84f">5</text>
<text class="d" x="778.43" y="658.72" fill="#38761d">9</text>
<text class="e" x="1140.33" y="658.72" fill="#274e13" stroke="#274e13">27</text>
<text class="d" x="565.52" y="673.15" fill="#660000">1</text>
<text class="d" x="574.52" y="673.15" fill="#990000">0</text>
<text class="d" x="583.52" y="673.15" fill="#cc0000">0</text>
<text class="d" x="592.52" y="673.15" fill="#e06666">0</text>
<text class="d" x="601.52" y="673.15" fill="#ea9999">2</text>
<text class="d" x="610.52" y="673.15" fill="#93c47d">1</text>
<text class="d" x="671.98" y="673.15" fill="#6aa84f">5</text>
<text class="d" x="765.12" y="673.15" fill="#38761d">7</text>
<text class="e" x="1140.33" y="673.15" fill="#274e13" stroke="#274e13">28</text>
<text class="d" x="565.52" y="687.58" fill="#660000">1</text>
<text class="d" x="574.52" y="687.58" fill="#990000">0</text>
<text class="d" x="583.52" y="687.58" fill="#cc0000">0</text>
<text class="d" x="592.52" y="687.58" fill="#e06666">1</text>
<text class="d" x="605.44" y="687.58" fill="#ea9999">2</text>
<text class="d" x="632.06" y="687.58" fill="#93c47d">2</text>
<text class="d" x="738.51" y="687.58" fill="#6aa84f">8</text>
<text class="d" x="874.19" y="687.58" fill="#38761d">10</text>
<text class="e" x="1140.33" y="687.58" fill="#274e13" stroke="#274e13">20</text>
<text class="d" x="552.22" y="702.02" fill="#660000">0</text>
<text class="d" x="565.52" y="702.02" fill="#990000">1</text>
<text class="d" x="574.52" y="702.02" fill="#cc0000">0</text>
<text class="d" x="583.52" y="702.02" fill="#e06666">1</text>
<text class="d" x="592.52" y="702.02" fill="#ea9999">1</text>
<text class="d" x="618.75" y="702.02" fill="#93c47d">2</text>
<text class="d" x="658.67" y="702.02" fill="#6aa84f">3</text>
<text class="d" x="860.89" y="702.02" fill="#38761d">15</text>
<text class="e" x="1140.33" y="702.02" fill="#274e13" stroke="#274e13">21</text>
<text class="d" x="552.22" y="716.45" fill="#660000">0</text>
<text class="d" x="561.22" y="716.45" fill="#990000">0</text>
<text class="d" x="570.22" y="716.45" fill="#cc0000">0</text>
<text class="d" x="605.44" y="716.45" fill="#e06666">4</text>
<text class="d" x="632.06" y="716.45" fill="#ea9999">2</text>
<text class="d" x="658.67" y="716.45" fill="#93c47d">2</text>
<text class="d" x="778.43" y="716.45" fill="#6aa84f">9</text>
<text class="d" x="927.42" y="716.45" fill="#38761d">11</text>
<text class="e" x="1140.33" y="716.45" fill="#274e13" stroke="#274e13">16</text>
<text class="d" x="552.22" y="730.89" fill="#660000">0</text>
<text class="d" x="561.22" y="730.89" fill="#990000">0</text>
<text class="d" x="570.22" y="730.89" fill="#cc0000">0</text>
<text class="d" x="592.14" y="730.89" fill="#e06666">3</text>
<text class="d" x="645.36" y="730.89" fill="#ea9999">4</text>
<text class="d" x="685.28" y="730.89" fill="#93c47d">3</text>
<text class="d" x="805.04" y="730.89" fill="#6aa84f">9</text>
<text class="d" x="898.19" y="730.89" fill="#38761d">7</text>
<text class="e" x="1140.33" y="730.89" fill="#274e13" stroke="#274e13">18</text>
<text class="d" x="552.22" y="745.32" fill="#660000">0</text>
<text class="d" x="561.22" y="745.32" fill="#990000">0</text>
<text class="d" x="570.22" y="745.32" fill="#cc0000">1</text>
<text class="d" x="579.22" y="745.32" fill="#e06666">1</text>
<text class="d" x="632.06" y="745.32" fill="#ea9999">4</text>
<text class="d" x="658.67" y="745.32" fill="#93c47d">2</text>
<text class="d" x="751.82" y="745.32" fill="#6aa84f">7</text>
<text class="d" x="914.11" y="745.32" fill="#38761d">12</text>
<text class="e" x="1140.33" y="745.32" fill="#274e13" stroke="#274e13">17</text>
<text class="d" x="565.52" y="759.75" fill="#660000">1</text>
<text class="d" x="574.52" y="759.75" fill="#990000">0</text>
<text class="d" x="583.52" y="759.75" fill="#cc0000">0</text>
<text class="d" x="605.44" y="759.75" fill="#e06666">3</text>
<text class="d" x="658.67" y="759.75" fill="#ea9999">4</text>
<text class="d" x="685.28" y="759.75" fill="#93c47d">2</text>
<text class="d" x="820.97" y="759.75" fill="#6aa84f">10</text>
<text class="d" x="954.03" y="759.75" fill="#38761d">10</text>
<text class="e" x="1140.33" y="759.75" fill="#274e13" stroke="#274e13">14</text>
<text class="d" x="565.52" y="774.19" fill="#660000">1</text>
<text class="d" x="574.52" y="774.19" fill="#990000">0</text>
<text class="d" x="583.52" y="774.19" fill="#cc0000">0</text>
<text class="d" x="592.52" y="774.19" fill="#e06666">1</text>
<text class="d" x="601.52" y="774.19" fill="#ea9999">1</text>
<text class="d" x="610.52" y="774.19" fill="#93c47d">0</text>
<text class="d" x="619.52" y="774.19" fill="#6aa84f">2</text>
<text class="d" x="685.28" y="774.19" fill="#38761d">5</text>
<text class="e" x="1140.33" y="774.19" fill="#274e13" stroke="#274e13">34</text>
<text class="d" x="565.52" y="788.62" fill="#660000">1</text>
<text class="d" x="574.52" y="788.62" fill="#990000">0</text>
<text class="d" x="583.52" y="788.62" fill="#cc0000">1</text>
<text class="d" x="592.52" y="788.62" fill="#e06666">0</text>
<text class="d" x="601.52" y="788.62" fill="#ea9999">1</text>
<text class="d" x="610.52" y="788.62" fill="#93c47d">1</text>
<text class="d" x="671.98" y="788.62" fill="#6aa84f">5</text>
<text class="d" x="791.74" y="788.62" fill="#38761d">9</text>
<text class="e" x="1140.33" y="788.62" fill="#274e13" stroke="#274e13">26</text>
<text class="d" x="565.52" y="803.06" fill="#660000">1</text>
<text class="d" x="574.52" y="803.06" fill="#990000">0</text>
<text class="d" x="592.14" y="803.06" fill="#cc0000">2</text>
<text class="d" x="601.14" y="803.06" fill="#e06666">0</text>
<text class="d" x="618.75" y="803.06" fill="#ea9999">2</text>
<text class="d" x="632.06" y="803.06" fill="#93c47d">1</text>
<text class="d" x="751.82" y="803.06" fill="#6aa84f">9</text>
<text class="d" x="818.35" y="803.06" fill="#38761d">5</text>
<text class="e" x="1140.33" y="803.06" fill="#274e13" stroke="#274e13">24</text>
<text class="d" x="565.52" y="817.49" fill="#660000">1</text>
<text class="d" x="574.52" y="817.49" fill="#990000">0</text>
<text class="d" x="592.14" y="817.49" fill="#cc0000">2</text>
<text class="d" x="601.14" y="817.49" fill="#e06666">0</text>
<text class="d" x="610.14" y="817.49" fill="#ea9999">1</text>
<text class="d" x="619.14" y="817.49" fill="#93c47d">1</text>
<text class="d" x="711.90" y="817.49" fill="#6aa84f">7</text>
<text class="d" x="818.35" y="817.49" fill="#38761d">8</text>
<text class="e" x="1140.33" y="817.49" fill="#274e13" stroke="#274e13">24</text>
<text class="c" x="536" y="312.10">The product was gentle on my skin.</text>
<text class="c" x="536" y="326.53">My skin felt restored by the morning.</text>
<text class="c" x="536" y="340.97">My skin felt significantly nourished after use.</text>
<text class="c" x="536" y="355.40">After use of the product my skin felt hydrated.</text>
<text class="c" x="536" y="369.84">After use of the product I noticed an improvement in my skins texture.</text>
<text class="c" x="536" y="384.27">After use of the product my skin looked heathier.</text>
<text class="c" x="536" y="398.70">After use of the product my fine lines appreared reduced.</text>
<text class="c" x="536" y="413.14">After use of the product my skin felt tighter.</text>
<text class="c" x="536" y="427.57">After use of the product my skin appeared more youthful.</text>
<text class="c" x="536" y="442.01">After use of the product I have seen a reduction in visible signs of aging.</text>
<text class="c" x="536" y="456.44">After use of the product I did not experience any irritation.</text>
<text class="c" x="536" y="470.87">The product was gentle on my skin.</text>
<text class="c" x="536" y="485.31">My skin felt restored by the morning.</text>
<text class="c" x="536" y="499.74">My skin felt significantly nourished after use.</text>
<text class="c" x="536" y="514.18">After use of the product my skin felt hydrated.</text>
<text class="c" x="536" y="528.61">After use of the product I noticed an improvement in my skins texture.</text>
<text class="c" x="536" y="543.04">After use of the product my skin looked heathier.</text>
<text class="c" x="536" y="557.48">After use of the product my fine lines appreared reduced.</text>
<text class="c" x="536" y="571.91">After use of the product my skin felt tighter.</text>
<text class="c" x="536" y="586.35">After use of the product my skin appeared more youthful.</text>
<text class="c" x="536" y="600.78">After use of the product I have seen a reduction in visible signs of aging.</text>
<text class="c" x="536" y="615.21">After use of the product I did not experience any irritation.</text>
<text class="c" x="536" y="629.65">The product was gentle on my skin.</text>
<text class="c" x="536" y="644.08">My skin felt restored by the morning.</text>
<text class="c" x="536" y="658.52">My skin felt significantly nourished after use.</text>
<text class="c" x="536" y="672.95">After use of the product my skin felt hydrated.</text>
<text class="c" x="536" y="687.38">After use of the product I noticed an improvement in my skins texture.</text>
<text class="c" x="536" y="701.82">After use of the product my skin looked heathier.</text>
<text class="c" x="536" y="716.25">After use of the product my fine lines appreared reduced.</text>
<text class="c" x="536" y="730.69">After use of the product my skin felt tighter.</text>
<text class="c" x="536" y="745.12">After use of the product my skin appeared more youthful.</text>
<text class="c" x="536" y="759.55">After use of the product I have seen a reduction in visible signs of aging.</text>
<text class="c" x="536" y="773.99">After use of the product I did not experience any irritation.</text>
<text class="c" x="536" y="788.42">I would incorporate this product into my skincare routine.</text>
<text class="c" x="536" y="802.86">I would purchase this product.</text>
<text class="c" x="536" y="817.29">I would recommend this product to family and friends.</text>
<text class="a" x="540.50" y="836">0%</text>
<text class="a" x="686.88" y="836">25%</text>
<text class="a" x="833.25" y="836">50%</text>
<text class="a" x="979.62" y="836">75%</text>
<text class="a" x="1126.00" y="836">100%</text>
<rect x="1190" y="299.40" width="9.4" height="9.2" fill="#660000"/>
<text class="l" x="1205.5" y="307.00">Scored 1</text>
<rect x="1190" y="316.55" width="9.4" height="9.2" fill="#990000"/>
<text class="l" x="1205.5" y="324.15">Scored 2</text>
<rect x="1190" y="333.70" width="9.4" height="9.2" fill="#cc0000"/>
<text class="l" x="1205.5" y="341.30">Scored 3</text>
<rect x="1190" y="350.85" width="9.4" height="9.2" fill="#e06666"/>
<text class="l" x="1205.5" y="358.45">Scored 4</text>
<rect x="1190" y="368.00" width="9.4" height="9.2" fill="#ea9999"/>
<text class="l" x="1205.5" y="375.60">Scored 5</text>
<rect x="1190" y="385.15" width="9.4" height="9.2" fill="#93c47d"/>
<text class="l" x="1205.5" y="392.75">Scored 6</text>
<rect x="1190" y="402.30" width="9.4" height="9.2" fill="#6aa84f"/>
<text class="l" x="1205.5" y="409.90">Scored 7</text>
<rect x="1190" y="419.45" width="9.4" height="9.2" fill="#38761d"/>
<text class="l" x="1205.5" y="427.05">Scored 8</text>
<rect x="1190" y="436.60" width="9.4" height="9.2" fill="#274e13"/>
<text class="l" x="1205.5" y="444.20">Scored 9</text>
</svg>
</body></html>
